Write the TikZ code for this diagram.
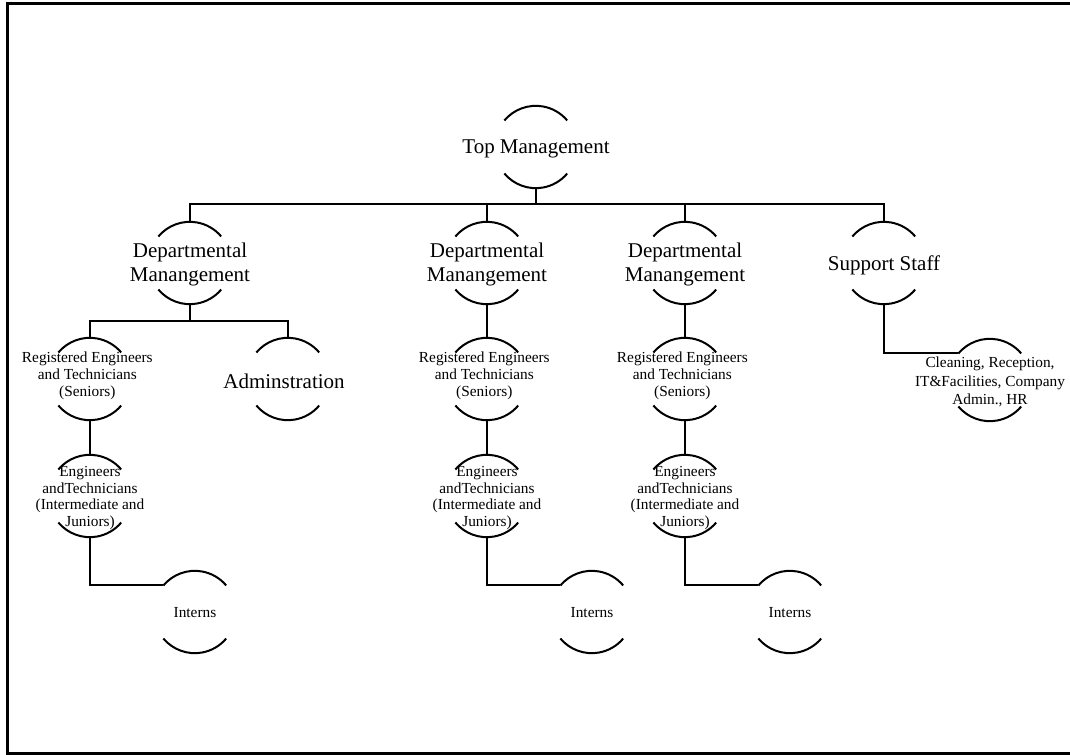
\documentclass[tikz,border=0pt]{standalone}
\usepackage{fontspec}
\setmainfont{Liberation Serif}
\begin{document}
\begin{tikzpicture}[x=0.75pt,y=-0.75pt,
  nd/.style={circle, minimum size=61.5pt, inner sep=0pt, draw=none},
  big/.style={font=\fontsize{15.75pt}{18pt}\selectfont, align=center, inner sep=0pt, yshift=-1.5pt},
  small/.style={font=\fontsize{11.5pt}{13pt}\selectfont, align=center, inner sep=0pt},
  conn/.style={line width=1.5pt},
  arcline/.style={line width=1.5pt}]
\useasboundingbox (0,0) rectangle (1070,755);
\draw[line width=2.25pt] (1070,4) -- (7,4) -- (7,753) -- (1070,753);

% nodes
\node[nd, label={[big]center:Top Management}] (top) at (536,147) {};
\node[nd, label={[big,yshift=0.5pt]center:Departmental\\Manangement}] (d1) at (190,263) {};
\node[nd, label={[big,yshift=0.5pt]center:Departmental\\Manangement}] (d2) at (487,263) {};
\node[nd, label={[big,yshift=0.5pt]center:Departmental\\Manangement}] (d3) at (685,263) {};
\node[nd, label={[big]center:Support Staff}] (sup) at (884,263) {};
\node[nd, label={[small,yshift=2.5pt,xshift=-2pt]center:Registered Engineers\\and Technicians\\(Seniors)}] (r1) at (90,379) {};
\node[nd, label={[big,xshift=-3pt]center:Adminstration}] (adm) at (288,379) {};
\node[nd, label={[small,yshift=2.5pt,xshift=-2pt]center:Registered Engineers\\and Technicians\\(Seniors)}] (r2) at (487,379) {};
\node[nd, label={[small,yshift=2.5pt,xshift=-2pt]center:Registered Engineers\\and Technicians\\(Seniors)}] (r3) at (685,379) {};
\node[nd, label={[small,font=\fontsize{11.5pt}{13.8pt}\selectfont,yshift=-1.5pt]center:Cleaning, Reception,\\IT\&Facilities, Company\\Admin., HR}] (cl) at (990,380) {};
\node[nd, label={[small,font=\fontsize{11.5pt}{12.3pt}\selectfont,yshift=-1.5pt]center:Engineers\\andTechnicians\\(Intermediate and\\Juniors)}] (e1) at (90,496) {};
\node[nd, label={[small,font=\fontsize{11.5pt}{12.3pt}\selectfont,yshift=-1.5pt]center:Engineers\\andTechnicians\\(Intermediate and\\Juniors)}] (e2) at (487,496) {};
\node[nd, label={[small,font=\fontsize{11.5pt}{12.3pt}\selectfont,yshift=-1.5pt]center:Engineers\\andTechnicians\\(Intermediate and\\Juniors)}] (e3) at (685,496) {};
\node[nd, label={[small,yshift=-0.75pt]center:Interns}] (i1) at (195,612) {};
\node[nd, label={[small,yshift=-0.75pt]center:Interns}] (i2) at (592,612) {};
\node[nd, label={[small,yshift=-0.75pt]center:Interns}] (i3) at (790,612) {};

% arcs
\foreach \n in {top,d1,d2,d3,sup,r1,adm,r2,r3,cl,e1,e2,e3,i1,i2,i3}{
  \draw[arcline] (\n.140) arc[start angle=140,end angle=40,radius=30.75pt];
  \draw[arcline] (\n.220) arc[start angle=220,end angle=320,radius=30.75pt];
}

% connectors
\coordinate (bus1) at (536,204);
\coordinate (bus2) at (190,321);
\draw[conn] (top.south) -- (bus1);
\draw[conn] (d1.north) |- (bus1) -| (sup.north);
\draw[conn] (d2.north) -- (d2.north |- bus1);
\draw[conn] (d3.north) -- (d3.north |- bus1);
\draw[conn] (d1.south) -- (bus2);
\draw[conn] (r1.north) |- (bus2) -| (adm.north);
\draw[conn] (d2.south) -- (r2.north);
\draw[conn] (d3.south) -- (r3.north);
\draw[conn] (r1.south) -- (e1.north);
\draw[conn] (r2.south) -- (e2.north);
\draw[conn] (r3.south) -- (e3.north);
\draw[conn] (e1.south) |- (i1.140);
\draw[conn] (e2.south) |- (i2.140);
\draw[conn] (e3.south) |- (i3.140);
\draw[conn] (sup.south) |- (cl.140);
\end{tikzpicture}
\end{document}
